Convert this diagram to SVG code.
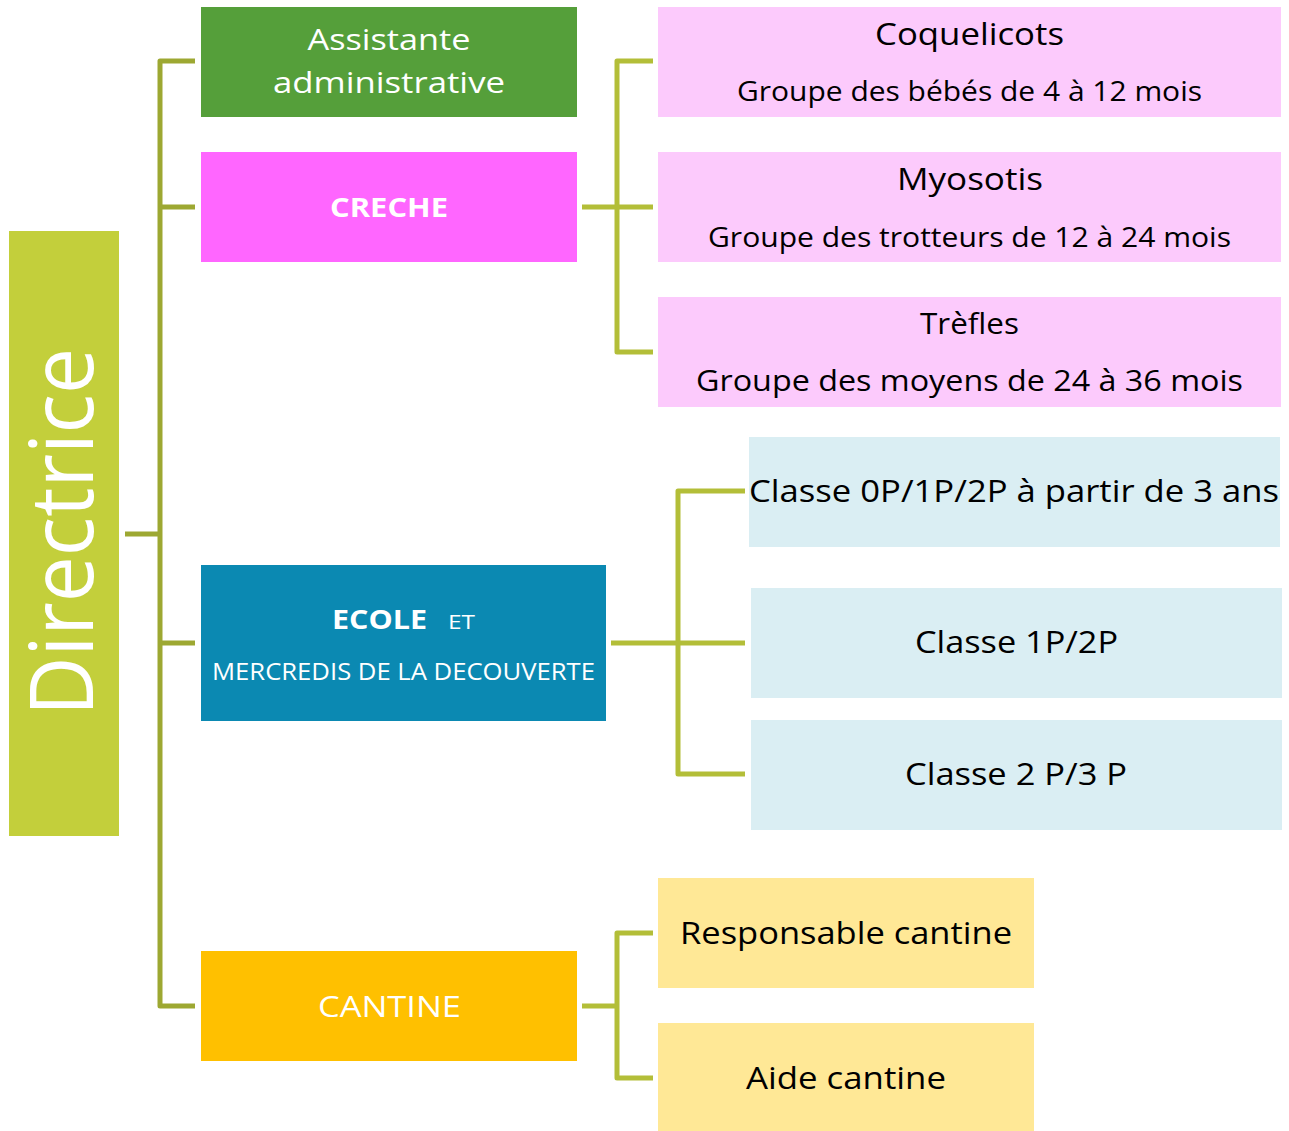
<svg xmlns="http://www.w3.org/2000/svg" width="1289" height="1131" viewBox="0 0 1289 1131">
<style>
text{font-family:"Open Sans","Noto Sans","Liberation Sans",sans-serif;text-anchor:middle}
.w{fill:#FFFFFF}
.k{fill:#000000}
.trunk{fill:none;stroke:#9DA832;stroke-width:5;stroke-linejoin:round}
.br{fill:none;stroke:#B3BE38;stroke-width:5;stroke-linejoin:round}
.pink{fill:#FCCAFC}
.blue{fill:#DAEEF3}
.yel{fill:#FFE896}
</style>
<rect width="1289" height="1131" fill="#FFFFFF"/>
<g id="connectors">
<path class="trunk" d="M195,61 H160 V1006 H195 M160,207 H195 M160,643 H195 M125,534 H160"/>
<path class="br" d="M653,61 H617 V352 H653 M582,207 H653"/>
<path class="br" d="M745,491 H678 V774 H745 M611,643 H745"/>
<path class="br" d="M653,933 H617 V1078 H653 M582,1006 H617"/>
</g>
<g id="directrice">
<rect x="9" y="231" width="110" height="605" fill="#C3CF3B"/>
<text class="w" transform="translate(93,532) rotate(-90)" font-size="87" textLength="368" lengthAdjust="spacingAndGlyphs">Directrice</text>
</g>
<g id="assistante">
<rect x="201" y="7" width="376" height="110" fill="#559F3A"/>
<text class="w" x="389" y="50" font-size="30" textLength="163" lengthAdjust="spacingAndGlyphs">Assistante</text>
<text class="w" x="389" y="93" font-size="30" textLength="232" lengthAdjust="spacingAndGlyphs">administrative</text>
</g>
<g id="creche">
<rect x="201" y="152" width="376" height="110" fill="#FF66FF"/>
<text class="w" x="389" y="217" font-size="27" font-weight="bold" textLength="118" lengthAdjust="spacingAndGlyphs">CRECHE</text>
</g>
<g id="ecole">
<rect x="201" y="565" width="405" height="156" fill="#0B89B2"/>
<text class="w" x="379.5" y="629" font-size="27" font-weight="bold" textLength="95" lengthAdjust="spacingAndGlyphs">ECOLE</text>
<text class="w" x="461.5" y="629" font-size="20" textLength="27" lengthAdjust="spacingAndGlyphs">ET</text>
<text class="w" x="403.5" y="680" font-size="23" textLength="383" lengthAdjust="spacingAndGlyphs">MERCREDIS DE LA DECOUVERTE</text>
</g>
<g id="cantine">
<rect x="201" y="951" width="376" height="110" fill="#FFC000"/>
<text class="w" x="389.5" y="1017" font-size="30" textLength="143" lengthAdjust="spacingAndGlyphs">CANTINE</text>
</g>
<g id="coquelicots">
<rect class="pink" x="658" y="7" width="623" height="110"/>
<text class="k" x="969.5" y="45" font-size="31" textLength="189" lengthAdjust="spacingAndGlyphs">Coquelicots</text>
<text class="k" x="969.5" y="101" font-size="27" textLength="465" lengthAdjust="spacingAndGlyphs">Groupe des bébés de 4 à 12 mois</text>
</g>
<g id="myosotis">
<rect class="pink" x="658" y="152" width="623" height="110"/>
<text class="k" x="970" y="190" font-size="31" textLength="146" lengthAdjust="spacingAndGlyphs">Myosotis</text>
<text class="k" x="969.5" y="247" font-size="27" textLength="523" lengthAdjust="spacingAndGlyphs">Groupe des trotteurs de 12 à 24 mois</text>
</g>
<g id="trefles">
<rect class="pink" x="658" y="297" width="623" height="110"/>
<text class="k" x="969.5" y="334" font-size="29" textLength="99" lengthAdjust="spacingAndGlyphs">Trèfles</text>
<text class="k" x="969.5" y="391" font-size="30" textLength="547" lengthAdjust="spacingAndGlyphs">Groupe des moyens de 24 à 36 mois</text>
</g>
<g id="classe0p">
<rect class="blue" x="749" y="437" width="531" height="110"/>
<text class="k" x="1014" y="502" font-size="31" textLength="530" lengthAdjust="spacingAndGlyphs">Classe 0P/1P/2P à partir de 3 ans</text>
</g>
<g id="classe1p">
<rect class="blue" x="751" y="588" width="531" height="110"/>
<text class="k" x="1016.5" y="653" font-size="31" textLength="203" lengthAdjust="spacingAndGlyphs">Classe 1P/2P</text>
</g>
<g id="classe2p">
<rect class="blue" x="751" y="720" width="531" height="110"/>
<text class="k" x="1016" y="785" font-size="31" textLength="222" lengthAdjust="spacingAndGlyphs">Classe 2 P/3 P</text>
</g>
<g id="responsable">
<rect class="yel" x="658" y="878" width="376" height="110"/>
<text class="k" x="846" y="944" font-size="31" textLength="332" lengthAdjust="spacingAndGlyphs">Responsable cantine</text>
</g>
<g id="aide">
<rect class="yel" x="658" y="1023" width="376" height="108"/>
<text class="k" x="846" y="1089" font-size="31" textLength="200" lengthAdjust="spacingAndGlyphs">Aide cantine</text>
</g>
</svg>
